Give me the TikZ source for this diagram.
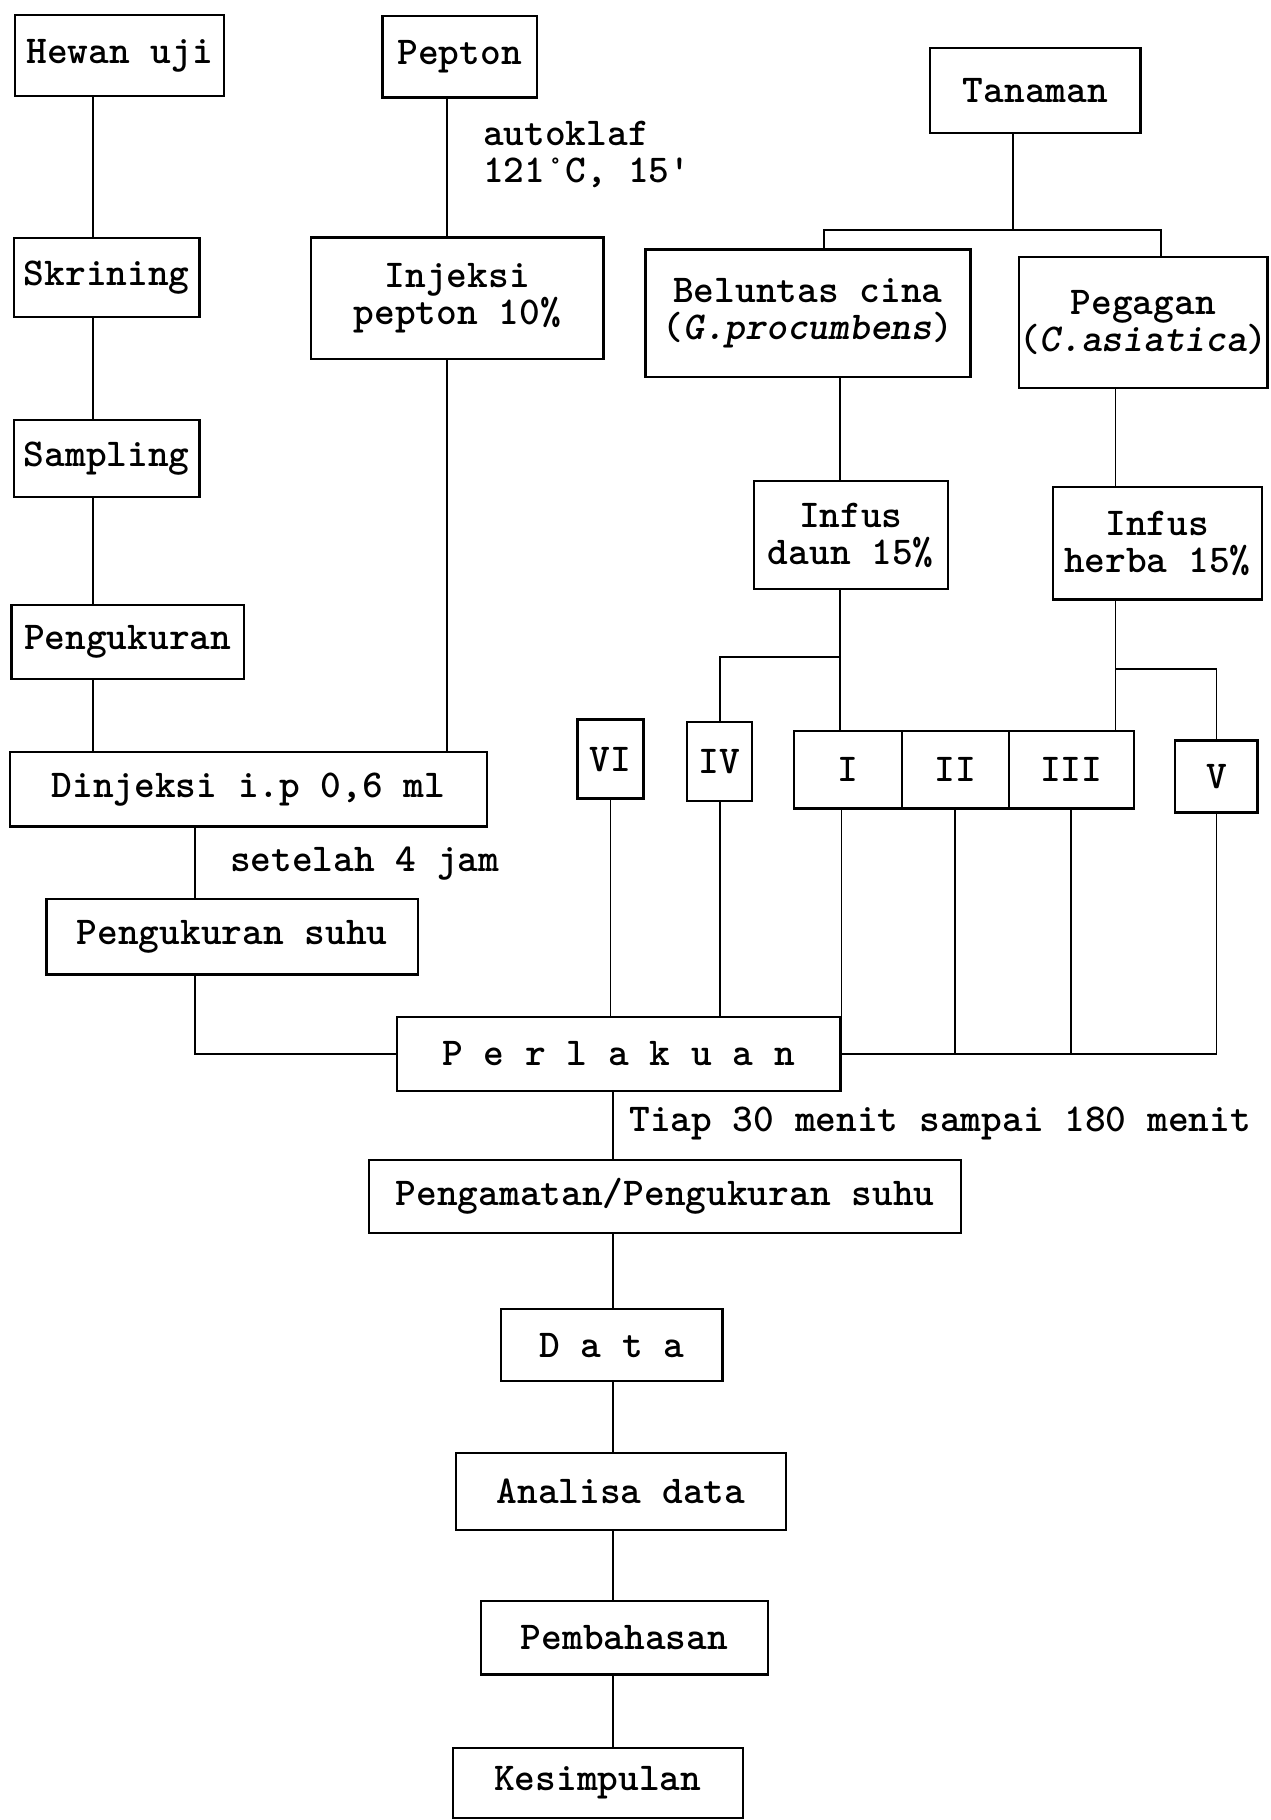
\documentclass[tikz,border=0pt]{standalone}
\usepackage{fontspec}
\begin{document}
\begin{tikzpicture}[x=1pt,y=-1pt,
  font={\ttfamily\fontsize{34}{32}\selectfont\bfseries},
  box/.style={draw, line width=2pt, inner sep=0pt, align=center},
  conn/.style={line width=1.6pt},
  lbl/.style={inner sep=0pt, align=left}]
\useasboundingbox (0,0) rectangle (1095,1568);
% x positions of vertical connectors
\coordinate (xA) at (80,0);
\coordinate (xL) at (168,0);
\coordinate (xP) at (385,0);
\coordinate (xT) at (873,0);
\coordinate (xD) at (724,0);
\coordinate (xH) at (961,0);
\coordinate (xB) at (528,0);
% left column
\node[box, minimum width=180pt, minimum height=70pt] (hewan) at (103,48) {Hewan uji};
\node[box, minimum width=160pt, minimum height=68pt] (skrining) at (92,239) {Skrining};
\node[box, minimum width=160pt, minimum height=66pt] (sampling) at (92,395) {Sampling};
\node[box, minimum width=200pt, minimum height=64pt] (pengukuran) at (110,553) {Pengukuran};
\node[box, minimum width=411pt, minimum height=64pt] (dinjeksi) at (214,680) {Dinjeksi i.p 0,6 ml};
\node[box, minimum width=320pt, minimum height=65pt] (suhu) at (200,807) {Pengukuran suhu};
% pepton column
\node[box, minimum width=133pt, minimum height=70pt] (pepton) at (396,49) {Pepton};
\node[box, minimum width=252pt, minimum height=105pt] (injeksi) at (394,257) {Injeksi\\pepton 10\%};
% plant column
\node[box, minimum width=181pt, minimum height=73pt] (tanaman) at (892,78) {Tanaman};
\node[box, minimum width=280pt, minimum height=110pt] (beluntas) at (696,270) {Beluntas cina\\({\itshape G.procumbens})};
\node[box, minimum width=210pt, minimum height=113pt] (pegagan) at (985,278) {Pegagan\\({\itshape C.asiatica})};
\node[box, minimum width=167pt, minimum height=93pt] (infusdaun) at (733,461) {Infus\\daun 15\%};
\node[box, minimum width=180pt, minimum height=97pt] (infusherba) at (997,468) {Infus\\herba 15\%};
% groups
\node[box, minimum width=57pt, minimum height=68pt] (gVI) at (526,654) {VI};
\node[box, minimum width=56pt, minimum height=68pt] (gIV) at (620,656) {IV};
\node[box, minimum width=93pt, minimum height=67pt] (gI) at (730.5,663) {I};
\node[box, minimum width=92pt, minimum height=67pt] (gII) at (823,663) {II};
\node[box, minimum width=108pt, minimum height=67pt] (gIII) at (923,663) {III};
\node[box, minimum width=71pt, minimum height=62pt] (gV) at (1048,669) {V};
% bottom chain
\node[box, minimum width=382pt, minimum height=64pt] (perlakuan) at (533,908) {P e r l a k u a n};
\node[box, minimum width=510pt, minimum height=63pt] (pengamatan) at (573,1031) {Pengamatan/Pengukuran suhu};
\node[box, minimum width=191pt, minimum height=62pt] (data) at (527,1159) {D a t a};
\node[box, minimum width=284pt, minimum height=66pt] (analisa) at (535,1285) {Analisa data};
\node[box, minimum width=247pt, minimum height=63pt] (pembahasan) at (538,1411) {Pembahasan};
\node[box, minimum width=250pt, minimum height=60pt] (kesimpulan) at (515,1536) {Kesimpulan};
% labels
\node[lbl, anchor=west] (lautoklaf) at (416,133) {autoklaf\\121°C, 15'};
\node[lbl, anchor=west] (lsetelah) at (198,744) {setelah 4 jam};
\node[lbl, anchor=west] (ltiap) at (542,968) {Tiap 30 menit sampai 180 menit};
% branch points
\coordinate (bT) at (873,198);
\coordinate (bD) at (724,566);
\coordinate (bH) at (961,576);
% connectors: left column
\draw[conn] (hewan.south -| xA) -- (skrining.north -| xA);
\draw[conn] (skrining.south -| xA) -- (sampling.north -| xA);
\draw[conn] (sampling.south -| xA) -- (pengukuran.north -| xA);
\draw[conn] (pengukuran.south -| xA) -- (dinjeksi.north -| xA);
\draw[conn] (dinjeksi.south -| xL) -- (suhu.north -| xL);
\draw[conn] (suhu.south -| xL) |- (perlakuan.west);
% pepton
\draw[conn] (pepton.south -| xP) -- (injeksi.north -| xP);
\draw[conn] (injeksi.south -| xP) -- (dinjeksi.north -| xP);
% plants
\draw[conn] (tanaman.south -| xT) -- (bT);
\draw[conn] (beluntas.north -| 710,0) |- (bT) -| (pegagan.north -| 1000,0);
\draw[conn] (beluntas.south -| xD) -- (infusdaun.north -| xD);
\draw[conn] (pegagan.south -| xH) -- (infusherba.north -| xH);
\draw[conn] (infusdaun.south -| xD) -- (gI.north -| xD);
\draw[conn] (bD) -| (gIV.north);
\draw[conn] (infusherba.south -| xH) -- (gIII.north -| xH);
\draw[conn] (bH) -| (gV.north);
% groups to perlakuan
\draw[conn] (gVI.south) -- (gVI.south |- perlakuan.north);
\draw[conn] (gIV.south) -- (gIV.south |- perlakuan.north);
\draw[conn] (gI.south -| perlakuan.north east) -- (perlakuan.north east);
\draw[conn] (gII.south) -- (gII.south |- perlakuan.east);
\draw[conn] (gIII.south) -- (gIII.south |- perlakuan.east);
\draw[conn] (perlakuan.east) -| (gV.south);
% bottom chain
\draw[conn] (perlakuan.south -| xB) -- (pengamatan.north -| xB);
\draw[conn] (pengamatan.south -| xB) -- (data.north -| xB);
\draw[conn] (data.south -| xB) -- (analisa.north -| xB);
\draw[conn] (analisa.south -| xB) -- (pembahasan.north -| xB);
\draw[conn] (pembahasan.south -| xB) -- (kesimpulan.north -| xB);
\end{tikzpicture}
\end{document}
